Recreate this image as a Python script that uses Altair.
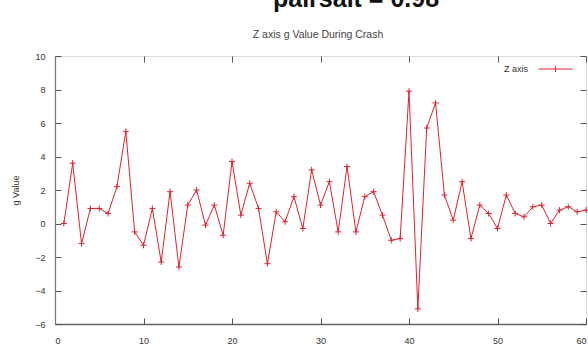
import altair as alt
import pandas as pd

# Z-axis acceleration samples recorded during the crash
sample = list(range(1, 61))
z_g = [0.0, 3.6, -1.2, 0.9, 0.9, 0.6, 2.2, 5.5, -0.5, -1.3,
       0.9, -2.3, 1.9, -2.6, 1.1, 2.0, -0.1, 1.1, -0.7, 3.7,
       0.5, 2.4, 0.9, -2.4, 0.7, 0.1, 1.6, -0.3, 3.2, 1.1,
       2.5, -0.5, 3.4, -0.5, 1.6, 1.9, 0.5, -1.0, -0.9, 7.9,
       -5.1, 5.7, 7.2, 1.7, 0.2, 2.5, -0.9, 1.1, 0.6, -0.3,
       1.7, 0.6, 0.4, 1.0, 1.1, 0.0, 0.8, 1.0, 0.7, 0.8]
series_name = ["Z axis"] * len(sample)

x_ticks = [0, 10, 20, 30, 40, 50, 60]
y_ticks = [-6, -4, -2, 0, 2, 4, 6, 8, 10]

chart_title = "Z axis g Value During Crash"
y_title = "g Value"
header_text = "pairsalt = 0.98"

RED = "#dc2430"
FONT = "Liberation Sans"
TICK = "#555555"
W, H = 531, 268

df = pd.DataFrame({"sample": sample, "g": z_g, "series": series_name})

x_scale = alt.Scale(domain=[0, 60], nice=False, zero=False)
y_scale = alt.Scale(domain=[-6, 10], nice=False, zero=False)


def inner_ticks(orient, offset, values):
    # tick-only axis pushed across the plot so its ticks point inward
    return alt.Axis(orient=orient, offset=offset, values=values, labels=False,
                    domain=False, ticks=True, tickSize=6, tickColor=TICK,
                    tickWidth=1, grid=False, title=None)


line = alt.Chart(df).mark_line(strokeWidth=1).encode(
    x=alt.X("sample:Q", scale=x_scale,
            axis=alt.Axis(orient="bottom", values=x_ticks, ticks=False, tickSize=0,
                          labelPadding=12, labelFont=FONT, labelFontSize=9,
                          labelColor="#333333", domainColor="#666666",
                          domainWidth=1.5, grid=False, title=None)),
    y=alt.Y("g:Q", scale=y_scale,
            axis=alt.Axis(orient="left", values=y_ticks, ticks=False, tickSize=0,
                          labelPadding=10, labelFont=FONT, labelFontSize=9,
                          labelColor="#333333", domainColor="#777777",
                          domainWidth=1.2, grid=False, title=y_title,
                          titleFont=FONT, titleFontSize=9, titleFontWeight="normal",
                          titleColor="#333333", titlePadding=14)),
    color=alt.Color("series:N",
                    scale=alt.Scale(domain=["Z axis"], range=[RED]),
                    legend=alt.Legend(orient="none", legendX=483, legendY=-4.5,
                                      title=None, padding=0,
                                      symbolType="M-1,0H1M0,-0.18V0.18",
                                      symbolSize=1156, symbolStrokeWidth=1,
                                      labelAlign="right",
                                      labelOffset={"expr": "-45"},
                                      labelFont=FONT, labelFontSize=9,
                                      labelColor="#333333")),
)

ghost = alt.Chart(df).mark_line(opacity=0).encode(
    x=alt.X("sample:Q", scale=x_scale, axis=inner_ticks("bottom", -H, x_ticks)),
    y=alt.Y("g:Q", scale=y_scale, axis=inner_ticks("left", -W, y_ticks)),
)

points = alt.Chart(df).mark_point(shape="M-1,0H1M0,-1V1", size=36, filled=False,
                                  strokeWidth=1, color=RED, opacity=1).encode(
    x=alt.X("sample:Q", scale=x_scale, axis=inner_ticks("top", -H, x_ticks)),
    y=alt.Y("g:Q", scale=y_scale, axis=inner_ticks("right", -W, y_ticks)),
)

# page heading above the figure (only its lower part falls inside the frame)
header = alt.Chart(pd.DataFrame({"t": [header_text]})).mark_text(
    font=FONT, fontSize=25, fontWeight="bold", color="#111111",
    align="center", baseline="alphabetic",
).encode(text="t:N", x=alt.value(301), y=alt.value(-49))

# plot title centred over the frame
title = alt.Chart(pd.DataFrame({"t": [chart_title]})).mark_text(
    font=FONT, fontSize=10.5, color="#444444",
    align="center", baseline="alphabetic",
).encode(text="t:N", x=alt.value(263), y=alt.value(-18))

chart = (
    alt.layer(line, ghost, points, header, title)
    .resolve_axis(x="independent", y="independent")
    .properties(
        width=W, height=H,
        autosize=alt.AutoSizeParams(type="none"),
        padding={"left": 55, "top": 56, "right": 2, "bottom": 27},
    )
    .configure_view(stroke="#999999", strokeWidth=1)
    .configure(background="white")
)

chart.save("out.html", embed_options={"renderer": "svg", "actions": False})
